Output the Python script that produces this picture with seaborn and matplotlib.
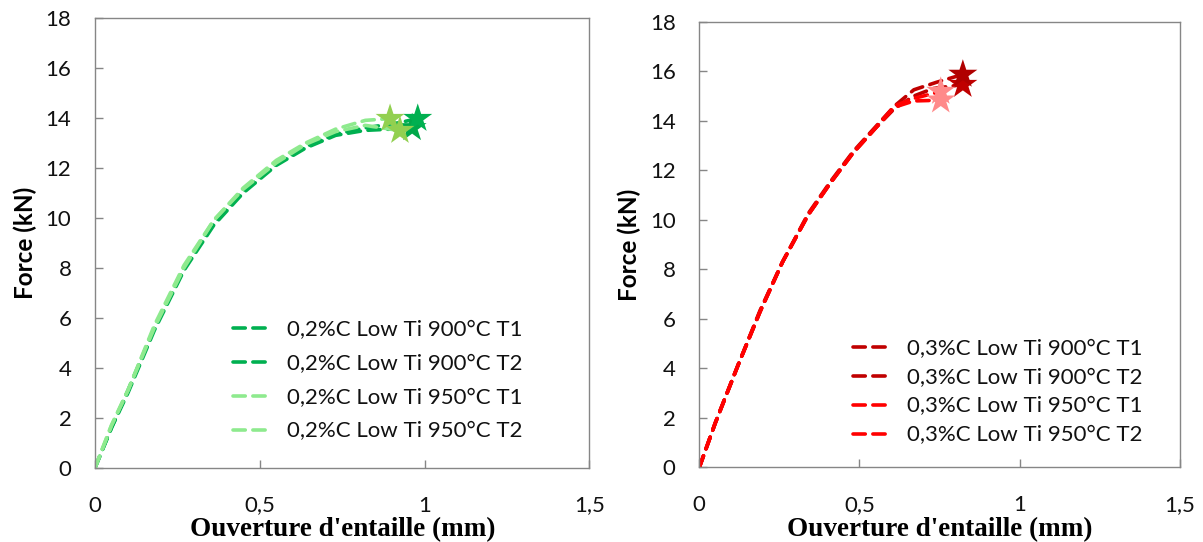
import matplotlib
matplotlib.use("Agg")
import matplotlib.pyplot as plt
import seaborn as sns
import numpy as np

sns.set_theme(style="white")
plt.rcParams['font.family'] = ['Lato', 'DejaVu Sans']

# ---------------- data ----------------
# Left panel: 0,2%C
left_labels = ["0,2%C Low Ti 900°C T1", "0,2%C Low Ti 900°C T2",
               "0,2%C Low Ti 950°C T1", "0,2%C Low Ti 950°C T2"]
left_x = [
    [0, 0.05, 0.10, 0.18, 0.27, 0.36, 0.45, 0.55, 0.64, 0.73, 0.82, 0.90, 0.962],
    [0, 0.05, 0.10, 0.18, 0.27, 0.36, 0.45, 0.55, 0.64, 0.73, 0.82, 0.92, 0.979],
    [0, 0.05, 0.10, 0.18, 0.27, 0.36, 0.45, 0.55, 0.64, 0.73, 0.82, 0.895],
    [0, 0.05, 0.10, 0.18, 0.27, 0.36, 0.45, 0.55, 0.64, 0.73, 0.82, 0.925],
]
left_y = [
    [0, 1.6, 3.0, 5.5, 7.9, 9.7, 11.0, 12.1, 12.8, 13.3, 13.5, 13.55, 13.6],
    [0, 1.6, 3.1, 5.6, 8.0, 9.8, 11.1, 12.15, 12.85, 13.35, 13.6, 13.8, 13.97],
    [0, 1.7, 3.1, 5.7, 8.1, 9.9, 11.2, 12.3, 13.0, 13.55, 13.9, 13.97],
    [0, 1.7, 3.1, 5.6, 8.0, 9.9, 11.15, 12.2, 12.95, 13.45, 13.7, 13.49],
]
left_line_colors = ["#00B050", "#00B050", "#8EEA8E", "#8EEA8E"]
left_star_colors = ["#00A84A", "#00B050", "#92D050", "#92D050"]

# Right panel: 0,3%C
right_labels = ["0,3%C Low Ti 900°C T1", "0,3%C Low Ti 900°C T2",
                "0,3%C Low Ti 950°C T1", "0,3%C Low Ti 950°C T2"]
right_x = [
    [0, 0.05, 0.12, 0.19, 0.26, 0.34, 0.41, 0.48, 0.55, 0.61, 0.67, 0.73, 0.823],
    [0, 0.05, 0.12, 0.19, 0.26, 0.34, 0.41, 0.48, 0.55, 0.61, 0.67, 0.74, 0.823],
    [0, 0.05, 0.12, 0.19, 0.26, 0.34, 0.41, 0.48, 0.55, 0.61, 0.67, 0.754],
    [0, 0.05, 0.12, 0.19, 0.26, 0.34, 0.41, 0.48, 0.55, 0.61, 0.67, 0.754],
]
right_y = [
    [0, 1.8, 4.1, 6.3, 8.3, 10.2, 11.5, 12.7, 13.7, 14.5, 15.0, 15.3, 15.46],
    [0, 1.8, 4.1, 6.35, 8.3, 10.25, 11.55, 12.75, 13.75, 14.6, 15.25, 15.55, 15.87],
    [0, 1.8, 4.1, 6.3, 8.3, 10.2, 11.5, 12.7, 13.7, 14.6, 14.9, 15.18],
    [0, 1.8, 4.1, 6.3, 8.3, 10.2, 11.5, 12.7, 13.7, 14.55, 14.8, 14.83],
]
right_line_colors = ["#C00000", "#C00000", "#FF0000", "#FF0000"]
right_star_colors = ["#C00000", "#B00000", "#FF8A8A", "#FF8A8A"]

x_ticks = [0, 0.5, 1, 1.5]
x_ticklabels = ["0", "0,5", "1", "1,5"]
y_ticks = list(range(0, 19, 2))

# ---------------- figure ----------------
fig = plt.figure(figsize=(12.03, 5.42), dpi=100)
ax1 = fig.add_axes([0.079, 0.137, 0.411, 0.830])
ax2 = fig.add_axes([0.5813, 0.1375, 0.3993, 0.8225])

def draw(ax, xs, ys, labels, lcols, scols, leg_anchor, labelspacing):
    handles = []
    for x, y, lab, lc in zip(xs, ys, labels, lcols):
        sns.lineplot(x=x, y=y, ax=ax, color=lc, sort=False, label=lab,
                     linewidth=2.6, estimator=None)
        ln = ax.get_lines()[-1]
        ln.set_dashes((3.4, 2.1))
        ln.set_dash_capstyle('round')
        handles.append(ln)
    for x, y, sc in zip(xs, ys, scols):
        sns.scatterplot(x=[x[-1]], y=[y[-1]], ax=ax, marker='*', s=480,
                        color=sc, edgecolor='none', legend=False, zorder=5)
    ax.set_xlim(0, 1.5)
    ax.set_ylim(0, 18)
    ax.set_xticks(x_ticks)
    ax.set_xticklabels(x_ticklabels)
    ax.set_yticks(y_ticks)
    for sp in ax.spines.values():
        sp.set_color('#868686')
        sp.set_linewidth(1.0)
        sp.set_visible(True)
    ax.tick_params(axis='y', direction='in', length=6, width=1, color='#868686',
                   labelsize=16, labelcolor='#111111', pad=17, left=True)
    ax.tick_params(axis='x', direction='in', length=6, width=1, color='#868686',
                   labelsize=16, labelcolor='#111111', pad=20, bottom=True)
    ax.set_xlabel("Ouverture d'entaille (mm)", family='Liberation Serif',
                  fontweight='bold', fontsize=19.5, labelpad=1, color='black')
    ax.set_ylabel("Force (kN)", fontweight='bold', fontsize=17.5, color='black',
                  labelpad=6)
    leg = ax.legend(handles=handles, labels=labels, loc='center left',
                    bbox_to_anchor=leg_anchor, frameon=False, fontsize=16,
                    handlelength=1.75, handletextpad=0.68, borderpad=0,
                    borderaxespad=0, labelspacing=labelspacing)
    for t in leg.get_texts():
        t.set_color('#111111')

draw(ax1, left_x, left_y, left_labels, left_line_colors, left_star_colors,
     (0.279, 0.193), 0.62)
draw(ax2, right_x, right_y, right_labels, right_line_colors, right_star_colors,
     (0.32, 0.169), 0.40)

fig.savefig("out.png", dpi=100, facecolor='white')
